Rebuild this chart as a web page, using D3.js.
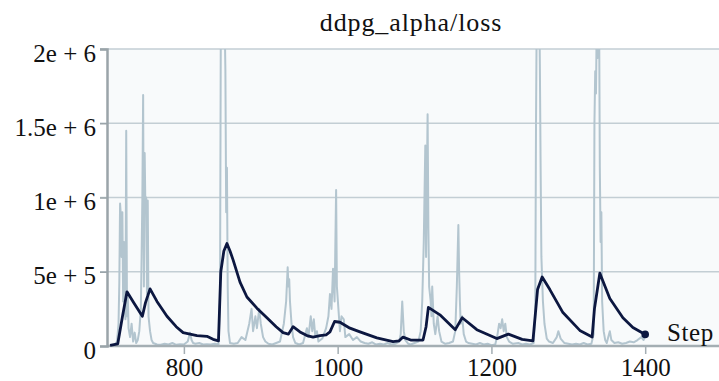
<!DOCTYPE html>
<html>
<head>
<meta charset="utf-8">
<script src="https://cdn.jsdelivr.net/npm/d3@7"></script>
<style>
  body { margin: 0; }
  svg text, svg g { font-family: "Liberation Serif", "Times New Roman", serif !important; }
</style>
</head>
<body>
<script>
const width = 719;
const height = 381;
const margin = {left: 107, top: 49, right: 0, bottom: 35};

const title = "ddpg_alpha/loss";
const xTicks = [800, 1000, 1200, 1400];
const yTicks = [0, 5e5, 1e6, 1.5e6, 2e6];
const yTickLabels = ["0", "5e + 5", "1e + 6", "1.5e + 6", "2e + 6"];

// raw loss (light line)
const rawSteps = [705,710,713,715,716,717,718,719,720,721,722,723,724,725,726,727,728,730,732,734,736,738,740,742,744,745,746,747,748,749,750,751,752,753,754,756,758,760,765,770,775,780,785,790,795,800,805,808,810,812,815,820,825,830,835,840,845,847,848,849,850,851,852,853,854,855,856,857,858,860,865,870,875,880,885,888,890,893,895,898,900,903,906,910,915,920,925,930,933,935,936,937,938,940,942,945,950,955,960,962,965,967,969,971,973,975,980,985,988,990,992,994,996,998,999,1001,1003,1005,1008,1010,1015,1020,1025,1030,1035,1040,1045,1050,1055,1060,1065,1070,1075,1080,1082,1084,1086,1088,1092,1095,1100,1105,1108,1110,1112,1114,1115,1116,1117,1118,1119,1121,1122,1123,1125,1127,1130,1132,1135,1140,1145,1150,1153,1155,1157,1158,1159,1160,1162,1164,1167,1170,1175,1180,1185,1190,1195,1200,1205,1208,1210,1212,1214,1216,1218,1220,1223,1228,1235,1240,1245,1250,1255,1257,1258,1259,1260,1261,1262,1263,1264,1265,1267,1269,1272,1275,1280,1285,1287,1290,1295,1300,1305,1310,1315,1320,1325,1330,1333,1334,1335,1336,1337,1338,1339,1340,1341,1342,1343,1344,1346,1348,1350,1352,1354,1356,1360,1365,1370,1375,1380,1385,1390,1395,1398,1400];
const rawLoss = [5e3,8e3,30e3,150e3,420e3,960e3,880e3,600e3,900e3,300e3,700e3,250e3,180e3,1450e3,200e3,350e3,120e3,60e3,150e3,30e3,90e3,20e3,40e3,100e3,250e3,600e3,1000e3,1690e3,400e3,1300e3,900e3,1000e3,350e3,980e3,200e3,100e3,40e3,20e3,10e3,8e3,15e3,10e3,20e3,8e3,12e3,10e3,30e3,90e3,40e3,20e3,15e3,20e3,10e3,12e3,10e3,15e3,10e3,300e3,2100e3,2500e3,2400e3,2300e3,2100e3,2200e3,1850e3,900e3,1200e3,400e3,100e3,20e3,15e3,20e3,60e3,40e3,150e3,250e3,100e3,200e3,120e3,250e3,150e3,60e3,30e3,15e3,10e3,20e3,30e3,150e3,300e3,530e3,400e3,450e3,300e3,150e3,60e3,20e3,10e3,20e3,120e3,60e3,200e3,100e3,180e3,60e3,100e3,30e3,50e3,120e3,200e3,350e3,250e3,520e3,300e3,1050e3,400e3,250e3,100e3,200e3,180e3,60e3,80e3,40e3,60e3,30e3,20e3,15e3,25e3,10e3,15e3,10e3,20e3,10e3,15e3,30e3,80e3,300e3,100e3,40e3,15e3,10e3,20e3,30e3,100e3,300e3,700e3,1350e3,600e3,1100e3,1560e3,800e3,400e3,300e3,200e3,400e3,150e3,80e3,200e3,100e3,30e3,15e3,20e3,30e3,100e3,400e3,815e3,500e3,300e3,150e3,200e3,80e3,30e3,20e3,15e3,10e3,20e3,10e3,15e3,5e3,10e3,80e3,150e3,120e3,180e3,100e3,150e3,60e3,30e3,15e3,20e3,10e3,15e3,10e3,20e3,200e3,1500e3,2300e3,2500e3,2200e3,2400e3,1900e3,1200e3,600e3,300e3,150e3,50e3,30e3,20e3,60e3,100e3,50e3,20e3,15e3,10e3,15e3,10e3,20e3,10e3,15e3,80e3,1500e3,1850e3,1700e3,2200e3,1940e3,2400e3,2300e3,1200e3,700e3,900e3,300e3,100e3,40e3,20e3,60e3,100e3,40e3,20e3,25e3,15e3,20e3,30e3,25e3,40e3,60e3,40e3,75e3];

// smoothed loss (dark line)
const smoothSteps = [704,714,720,726,735,746,750,756,765,778,790,799,817,830,838,845,848,852,856,860,864,873,882,895,908,920,929,936,942,951,960,968,977,985,990,996,1003,1016,1029,1051,1072,1080,1085,1095,1111,1115,1118,1133,1153,1162,1181,1207,1222,1240,1254,1260,1266,1276,1293,1315,1331,1334,1341,1354,1371,1384,1400];
const smoothLoss = [5e3,15e3,195e3,365e3,290e3,200e3,290e3,385e3,300e3,200e3,130e3,90e3,70e3,65e3,45e3,35e3,500e3,640e3,690e3,640e3,580e3,430e3,330e3,255e3,190e3,130e3,90e3,80e3,130e3,95e3,70e3,60e3,70e3,75e3,95e3,165e3,160e3,120e3,95e3,55e3,30e3,35e3,60e3,40e3,40e3,130e3,260e3,210e3,110e3,190e3,110e3,50e3,80e3,45e3,35e3,380e3,465e3,380e3,225e3,105e3,60e3,250e3,490e3,320e3,190e3,125e3,78e3];

const svg = d3.select("body").append("svg").attr("width", width).attr("height", height);

const x = d3.scaleLinear().domain([700, 1496]).range([margin.left, width - margin.right]);
const y = d3.scaleLinear().domain([0, 2e6]).range([height - margin.bottom, margin.top]);

svg.append("rect")
  .attr("x", margin.left).attr("y", margin.top)
  .attr("width", width - margin.left).attr("height", y(0) - margin.top)
  .attr("fill", "#f8fafb");

svg.append("defs").append("clipPath").attr("id", "clip")
  .append("rect").attr("x", margin.left).attr("y", margin.top)
  .attr("width", width - margin.left).attr("height", y(0) - margin.top);

// grid
svg.append("g").selectAll("line").data(yTicks.slice(1)).enter().append("line")
  .attr("x1", margin.left - 7).attr("x2", width)
  .attr("y1", d => y(d)).attr("y2", d => y(d))
  .attr("stroke", "#c3ced4").attr("stroke-width", 1.5);

const raw = rawSteps.map((s, i) => [s, rawLoss[i]]);
const smooth = smoothSteps.map((s, i) => [s, smoothLoss[i]]);
const line = d3.line().x(d => x(d[0])).y(d => y(d[1]));

svg.append("path").datum(raw).attr("d", line)
  .attr("clip-path", "url(#clip)")
  .attr("fill", "none").attr("stroke", "#b3c5cf").attr("stroke-width", 2)
  .attr("stroke-linejoin", "round");

// axes
const xAxis = d3.axisBottom(x).tickValues(xTicks).tickSize(8).tickFormat(d3.format("d"));
svg.append("g").attr("transform", `translate(0,${y(0)})`).call(xAxis)
  .call(g => g.select(".domain").attr("stroke", "#a4aeb3").attr("stroke-width", 2.5).attr("d", `M${margin.left},0H${width}`))
  .call(g => g.selectAll(".tick line").attr("stroke", "#a4aeb3").attr("stroke-width", 1.5))
  .call(g => g.selectAll(".tick text").attr("y", 12).attr("dy", 18)
    .style("font-size", "25px").attr("fill", "#111"));

const yAxis = d3.axisLeft(y).tickValues(yTicks).tickSize(7).tickFormat((d, i) => yTickLabels[i]);
svg.append("g").attr("transform", `translate(${margin.left},0)`).call(yAxis)
  .call(g => g.select(".domain").attr("stroke", "#9aa4a9").attr("stroke-width", 2.5))
  .call(g => g.selectAll(".tick line").attr("stroke", "#9aa4a9").attr("stroke-width", 1.5))
  .call(g => g.selectAll(".tick text").attr("x", -11).attr("dy", "0.48em")
    .style("font-size", "25px").attr("fill", "#111"));

svg.append("path").datum(smooth).attr("d", line)
  .attr("fill", "none").attr("stroke", "#0c1740").attr("stroke-width", 2.8)
  .attr("stroke-linejoin", "round");

const last = smooth[smooth.length - 1];
svg.append("circle").attr("cx", x(last[0])).attr("cy", y(last[1])).attr("r", 3.8).attr("fill", "#0c1740");

svg.append("text").attr("x", 411).attr("y", 31).attr("text-anchor", "middle")
  .style("font-size", "26px").style("letter-spacing", "0.9px")
  .attr("fill", "#111").text(title);

svg.append("text").attr("x", 667).attr("y", 341)
  .style("font-size", "25px").style("letter-spacing", "0.6px")
  .attr("fill", "#111").text("Step");
</script>
</body>
</html>
